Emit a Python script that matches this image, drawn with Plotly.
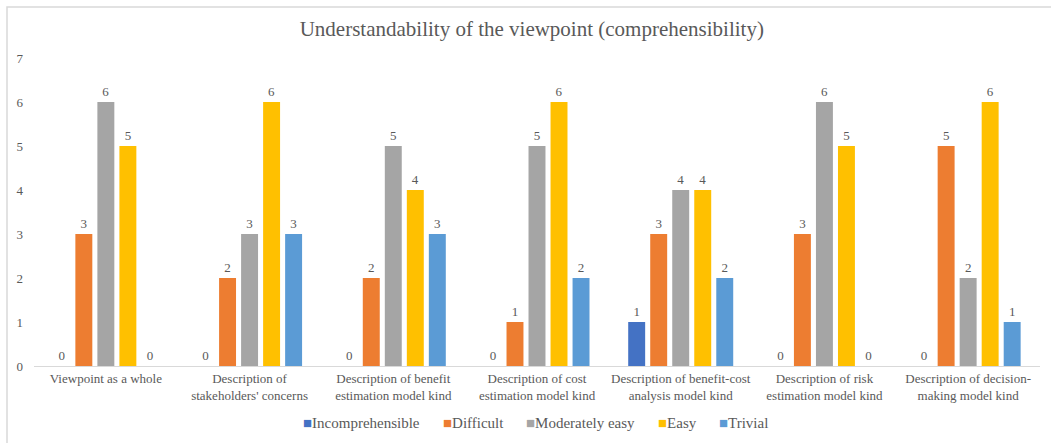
import plotly.graph_objects as go

categories = [
    "Viewpoint as a whole",
    "Description of<br>stakeholders' concerns",
    "Description of benefit<br>estimation model kind",
    "Description of cost<br>estimation model kind",
    "Description of benefit-cost<br>analysis model kind",
    "Description of risk<br>estimation model kind",
    "Description of decision-<br>making model kind",
]

incomprehensible = [0, 0, 0, 0, 1, 0, 0]
difficult = [3, 2, 2, 1, 3, 3, 5]
moderately_easy = [6, 3, 5, 5, 4, 6, 2]
easy = [5, 6, 4, 6, 4, 5, 6]
trivial = [0, 3, 3, 2, 2, 0, 1]

series = [
    ("Incomprehensible", incomprehensible, "#4472C4"),
    ("Difficult", difficult, "#ED7D31"),
    ("Moderately easy", moderately_easy, "#A5A5A5"),
    ("Easy", easy, "#FFC000"),
    ("Trivial", trivial, "#5B9BD5"),
]

FONT = "Liberation Serif"
GREY = "#595959"

L, R, T, B = 34, 11, 58, 77
W, H = 1051, 443
PW, PH = W - L - R, H - T - B


def px_x(p):
    return (p - L) / PW


def px_y(p):
    return (H - B - p) / PH


fig = go.Figure()
for name, vals, color in series:
    fig.add_trace(go.Bar(
        x=categories, y=vals, name=name,
        marker=dict(color=color, line=dict(width=0)),
        text=[str(v) for v in vals], textposition="outside",
        textfont=dict(family=FONT, size=13, color=GREY),
        cliponaxis=False,
    ))

fig.update_layout(
    width=W, height=H,
    paper_bgcolor="white", plot_bgcolor="white",
    margin=dict(l=L, r=R, t=T, b=B, autoexpand=False),
    barmode="group", bargap=0.234, bargroupgap=0.23,
    showlegend=False,
    title=dict(text="Understandability of the viewpoint (comprehensibility)",
               x=0.506, xanchor="center", y=0.935, yanchor="middle",
               font=dict(family=FONT, size=21, color=GREY)),
    font=dict(family=FONT, color=GREY),
)
fig.update_xaxes(showgrid=False, showline=True, linecolor="#D9D9D9", linewidth=1,
                 ticks="", tickfont=dict(family=FONT, size=13, color=GREY))
fig.update_yaxes(range=[0, 7], dtick=1, showgrid=False, zeroline=False, showline=False,
                 ticks="", ticklabelstandoff=10,
                 tickfont=dict(family=FONT, size=13, color=GREY))

# legend row: coloured square followed by the series name
legend_left = [301, 441, 524, 656, 717]
for (name, _, color), xl in zip(series, legend_left):
    fig.add_annotation(
        xref="paper", yref="paper", x=px_x(xl), y=px_y(423),
        xanchor="left", yanchor="middle", showarrow=False,
        text=f"<span style='color:{color}'>■</span>{name}",
        font=dict(family=FONT, size=15, color=GREY),
    )

# outer chart frame
fig.add_shape(type="rect", xref="paper", yref="paper",
              x0=px_x(7), x1=px_x(1052), y0=px_y(444), y1=px_y(7),
              line=dict(color="#D9D9D9", width=1.5), layer="below")

fig.write_html("out.html")
